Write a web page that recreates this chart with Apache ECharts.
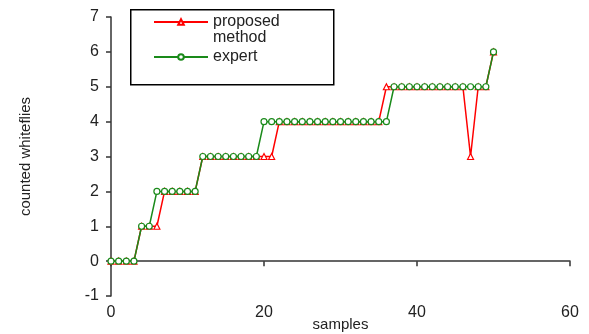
<!DOCTYPE html>
<html>
<head>
<meta charset="utf-8">
<script src="https://cdn.jsdelivr.net/npm/echarts@6/dist/echarts.min.js"></script>
<style>html,body{margin:0;padding:0;background:#fff}#c{width:589px;height:334px}</style>
</head>
<body>
<div id="c"></div>
<script>
var samples = [0,1,2,3,4,5,6,7,8,9,10,11,12,13,14,15,16,17,18,19,20,21,22,23,24,25,26,27,28,29,30,31,32,33,34,35,36,37,38,39,40,41,42,43,44,45,46,47,48,49,50];
var proposed = [0,0,0,0,1,1,1,2,2,2,2,2,3,3,3,3,3,3,3,3,3,3,4,4,4,4,4,4,4,4,4,4,4,4,4,4,5,5,5,5,5,5,5,5,5,5,5,3,5,5,6];
var expert   = [0,0,0,0,1,1,2,2,2,2,2,2,3,3,3,3,3,3,3,3,4,4,4,4,4,4,4,4,4,4,4,4,4,4,4,4,4,5,5,5,5,5,5,5,5,5,5,5,5,5,6];
var xTicks = {min: 0, max: 60, interval: 20};
var yTicks = {min: -1, max: 7, interval: 1};

function pairs(xs, ys){ return xs.map(function(x,i){ return [x, ys[i]]; }); }

var font = 'Liberation Sans, Arial, sans-serif';
var chart = echarts.init(document.getElementById('c'), null, {renderer:'canvas'});
chart.setOption({
  animation: false,
  backgroundColor: '#fff',
  textStyle: {fontFamily: font},
  grid: {left: 111, right: 19, top: 17, bottom: 38, containLabel: false, outerBoundsMode: 'none'},
  graphic: [{
    type: 'rect', left: 130, top: 9, z: 10,
    shape: {width: 203, height: 75},
    style: {fill: '#fff', stroke: '#000', lineWidth: 1.5}
  }],
  legend: {
    orient: 'vertical', left: 153, top: -2, padding: 0, z: 20,
    itemWidth: 54, itemHeight: 7, itemGap: 3,
    data: ['proposed method', 'expert'],
    formatter: function(n){ return n === 'proposed method' ? ' \nproposed\nmethod' : n; },
    textStyle: {fontSize: 16, color: '#222', fontFamily: font, lineHeight: 16}
  },
  xAxis: {
    type: 'value', min: xTicks.min, max: xTicks.max, interval: xTicks.interval,
    name: 'samples', nameLocation: 'middle', nameGap: 21, nameMoveOverlap: false,
    nameTextStyle: {fontSize: 15, color: '#222'},
    axisLine: {onZero: true, lineStyle: {color: '#333', width: 1.5}},
    axisTick: {inside: false, length: 5, lineStyle: {color: '#333', width: 1.5}},
    axisLabel: {fontSize: 16, color: '#222', margin: 9},
    splitLine: {show: false}
  },
  yAxis: {
    type: 'value', min: yTicks.min, max: yTicks.max, interval: yTicks.interval,
    name: 'counted whiteflies', nameLocation: 'middle', nameGap: 78,
    nameTextStyle: {fontSize: 15, color: '#222'},
    axisLine: {show: true, onZero: false, lineStyle: {color: '#333', width: 1.5}},
    axisTick: {show: true, length: 5, lineStyle: {color: '#333', width: 1.5}},
    axisLabel: {fontSize: 16, color: '#222', margin: 12},
    splitLine: {show: false}
  },
  series: [{
    name: 'proposed method', type: 'line', data: pairs(samples, proposed),
    symbol: 'triangle', symbolSize: 6, showAllSymbol: true,
    lineStyle: {color: '#ff0000', width: 1.5},
    itemStyle: {color: '#fff', borderColor: '#ff0000', borderWidth: 1.2},
    z: 2
  }, {
    name: 'expert', type: 'line', data: pairs(samples, expert),
    symbol: 'circle', symbolSize: 6, showAllSymbol: true,
    lineStyle: {color: '#1a8a1a', width: 1.5},
    itemStyle: {color: '#fff', borderColor: '#1a8a1a', borderWidth: 1.2},
    z: 3
  }]
});
</script>
</body>
</html>
